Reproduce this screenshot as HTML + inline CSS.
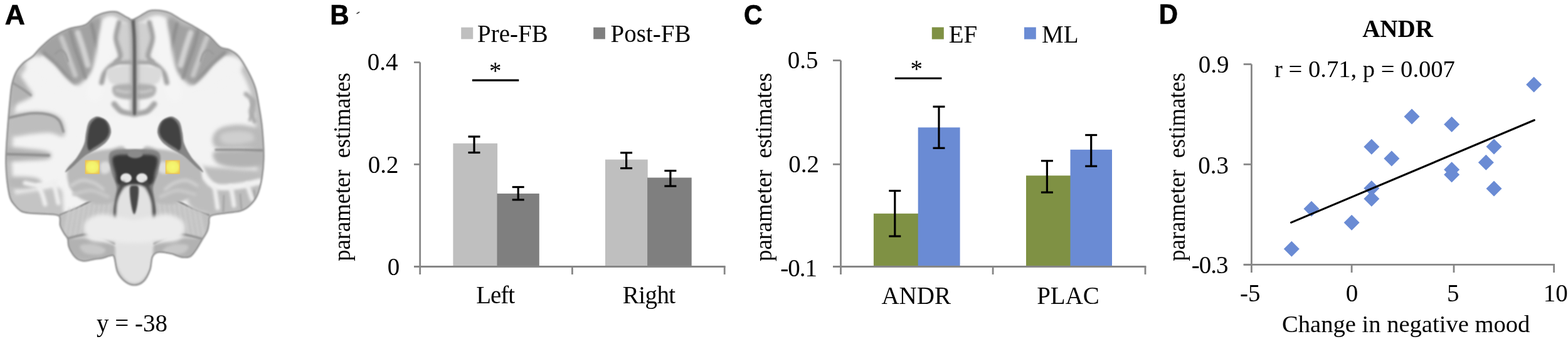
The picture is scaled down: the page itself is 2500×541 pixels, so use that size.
<!DOCTYPE html>
<html><head><meta charset="utf-8"><title>Figure</title>
<style>html,body{margin:0;padding:0;background:#fff;width:2500px;height:541px;overflow:hidden}svg{display:block}</style>
</head><body>
<svg width="2500" height="541" viewBox="0 0 2500 541">
<rect width="2500" height="541" fill="#fff"/>
<defs>
<filter id="bl1" filterUnits="userSpaceOnUse" x="-30" y="-30" width="500" height="520"><feGaussianBlur stdDeviation="1"/></filter><filter id="bl15" filterUnits="userSpaceOnUse" x="-30" y="-30" width="500" height="520"><feGaussianBlur stdDeviation="1.6"/></filter><filter id="bl2" filterUnits="userSpaceOnUse" x="-30" y="-30" width="500" height="520"><feGaussianBlur stdDeviation="2.2"/></filter><filter id="bl3" filterUnits="userSpaceOnUse" x="-30" y="-30" width="500" height="520"><feGaussianBlur stdDeviation="3.2"/></filter><filter id="bl5" filterUnits="userSpaceOnUse" x="-30" y="-30" width="500" height="520"><feGaussianBlur stdDeviation="5"/></filter>
<clipPath id="silclip"><path d="M210.5 31.6 C207.4 32.2 207.1 30.1 205.0 29.0 C202.9 27.9 201.3 27.0 198.0 25.3 C194.7 23.6 189.8 19.8 185.0 18.9 C180.2 18.0 175.1 18.4 169.5 19.7 C163.9 21.0 157.0 23.3 151.4 26.6 C145.8 29.9 142.8 36.4 135.9 39.6 C129.0 42.8 118.5 42.9 110.0 46.0 C101.5 49.1 92.6 53.5 85.0 58.5 C77.4 63.5 69.8 71.0 64.4 76.2 C59.0 81.4 56.9 85.5 52.5 89.5 C48.1 93.5 42.2 95.8 37.8 100.0 C33.4 104.2 29.1 108.9 26.0 114.7 C22.9 120.5 20.7 127.5 19.0 135.0 C17.3 142.6 17.0 150.2 16.0 160.0 C15.0 169.8 14.0 181.0 13.0 194.0 C12.0 207.0 10.6 226.7 10.0 238.0 C9.4 249.3 9.2 253.3 9.5 262.0 C9.8 270.7 10.4 281.0 11.5 290.0 C12.6 299.0 14.2 309.7 16.3 316.0 C18.4 322.3 21.1 324.5 24.0 328.0 C26.9 331.5 30.3 335.0 34.0 337.0 C37.7 339.0 39.3 339.2 46.0 340.0 C52.7 340.8 66.0 340.8 74.0 341.5 C82.0 342.2 90.3 341.4 94.0 344.5 C97.7 347.6 94.7 355.4 96.0 360.0 C97.3 364.6 100.0 368.5 102.0 372.0 C104.0 375.5 106.8 377.5 108.0 381.0 C109.2 384.5 108.3 388.9 109.5 392.8 C110.7 396.8 113.0 401.2 115.4 404.7 C117.8 408.2 120.6 411.6 124.0 413.6 C127.4 415.6 131.7 416.5 136.0 416.5 C140.3 416.5 145.5 414.4 150.0 413.6 C154.5 412.9 158.7 412.9 163.0 412.0 C167.3 411.1 172.8 408.3 176.0 408.0 C179.2 407.7 180.1 405.7 182.0 410.0 C183.9 414.3 184.5 427.5 187.3 434.0 C190.1 440.5 194.6 445.5 199.0 449.0 C203.4 452.5 209.0 455.0 214.0 455.0 C219.0 455.0 224.6 453.0 228.8 449.0 C233.0 445.0 236.6 437.5 239.0 431.0 C241.4 424.5 240.8 414.8 243.0 410.0 C245.2 405.2 247.4 403.4 252.4 402.5 C257.4 401.6 268.1 403.8 273.0 404.7 C277.9 405.6 278.9 407.0 282.0 408.0 C285.1 409.0 288.2 410.4 291.8 410.6 C295.4 410.8 300.2 411.0 303.7 409.0 C307.1 407.0 309.6 403.0 312.5 398.8 C315.4 394.6 318.4 389.0 321.4 384.0 C324.4 379.0 328.4 373.4 330.3 369.0 C332.2 364.6 332.1 361.4 333.0 357.3 C333.9 353.2 331.5 347.4 336.0 344.5 C340.5 341.6 352.1 341.3 360.0 340.0 C367.9 338.7 377.2 338.6 383.6 336.6 C390.0 334.6 393.9 331.9 398.3 327.8 C402.7 323.7 406.8 319.3 410.0 312.0 C413.2 304.7 415.9 294.5 417.6 284.0 C419.4 273.5 420.4 262.3 420.5 249.0 C420.6 235.7 419.2 217.2 418.0 204.0 C416.8 190.8 414.8 180.7 413.0 170.0 C411.2 159.3 409.9 149.4 407.0 140.0 C404.1 130.6 399.8 121.9 395.4 113.6 C391.0 105.3 385.5 95.7 380.6 90.0 C375.7 84.3 370.7 82.0 365.8 79.5 C360.9 77.0 356.5 78.7 351.0 75.0 C345.5 71.3 339.9 62.7 333.0 57.3 C326.1 51.9 316.8 46.7 309.6 42.5 C302.4 38.3 296.6 35.9 290.0 32.2 C283.4 28.5 276.3 23.0 270.0 20.4 C263.7 17.8 257.8 17.0 252.4 16.5 C247.0 16.0 242.4 15.9 237.6 17.4 C232.8 18.9 228.3 22.9 223.8 25.3 C219.3 27.7 213.6 31.0 210.5 31.6 Z"/></clipPath>
<radialGradient id="ysq" cx="0.5" cy="0.5" r="0.62"><stop offset="0" stop-color="#f6f872"/><stop offset="0.6" stop-color="#f3f06a"/><stop offset="1" stop-color="#ecc652"/></radialGradient>
<filter id="ybl" x="-20%" y="-20%" width="140%" height="140%"><feGaussianBlur stdDeviation="0.7"/></filter>
</defs>
<g id="brain"><path d="M210.5 31.6 C207.4 32.2 207.1 30.1 205.0 29.0 C202.9 27.9 201.3 27.0 198.0 25.3 C194.7 23.6 189.8 19.8 185.0 18.9 C180.2 18.0 175.1 18.4 169.5 19.7 C163.9 21.0 157.0 23.3 151.4 26.6 C145.8 29.9 142.8 36.4 135.9 39.6 C129.0 42.8 118.5 42.9 110.0 46.0 C101.5 49.1 92.6 53.5 85.0 58.5 C77.4 63.5 69.8 71.0 64.4 76.2 C59.0 81.4 56.9 85.5 52.5 89.5 C48.1 93.5 42.2 95.8 37.8 100.0 C33.4 104.2 29.1 108.9 26.0 114.7 C22.9 120.5 20.7 127.5 19.0 135.0 C17.3 142.6 17.0 150.2 16.0 160.0 C15.0 169.8 14.0 181.0 13.0 194.0 C12.0 207.0 10.6 226.7 10.0 238.0 C9.4 249.3 9.2 253.3 9.5 262.0 C9.8 270.7 10.4 281.0 11.5 290.0 C12.6 299.0 14.2 309.7 16.3 316.0 C18.4 322.3 21.1 324.5 24.0 328.0 C26.9 331.5 30.3 335.0 34.0 337.0 C37.7 339.0 39.3 339.2 46.0 340.0 C52.7 340.8 66.0 340.8 74.0 341.5 C82.0 342.2 90.3 341.4 94.0 344.5 C97.7 347.6 94.7 355.4 96.0 360.0 C97.3 364.6 100.0 368.5 102.0 372.0 C104.0 375.5 106.8 377.5 108.0 381.0 C109.2 384.5 108.3 388.9 109.5 392.8 C110.7 396.8 113.0 401.2 115.4 404.7 C117.8 408.2 120.6 411.6 124.0 413.6 C127.4 415.6 131.7 416.5 136.0 416.5 C140.3 416.5 145.5 414.4 150.0 413.6 C154.5 412.9 158.7 412.9 163.0 412.0 C167.3 411.1 172.8 408.3 176.0 408.0 C179.2 407.7 180.1 405.7 182.0 410.0 C183.9 414.3 184.5 427.5 187.3 434.0 C190.1 440.5 194.6 445.5 199.0 449.0 C203.4 452.5 209.0 455.0 214.0 455.0 C219.0 455.0 224.6 453.0 228.8 449.0 C233.0 445.0 236.6 437.5 239.0 431.0 C241.4 424.5 240.8 414.8 243.0 410.0 C245.2 405.2 247.4 403.4 252.4 402.5 C257.4 401.6 268.1 403.8 273.0 404.7 C277.9 405.6 278.9 407.0 282.0 408.0 C285.1 409.0 288.2 410.4 291.8 410.6 C295.4 410.8 300.2 411.0 303.7 409.0 C307.1 407.0 309.6 403.0 312.5 398.8 C315.4 394.6 318.4 389.0 321.4 384.0 C324.4 379.0 328.4 373.4 330.3 369.0 C332.2 364.6 332.1 361.4 333.0 357.3 C333.9 353.2 331.5 347.4 336.0 344.5 C340.5 341.6 352.1 341.3 360.0 340.0 C367.9 338.7 377.2 338.6 383.6 336.6 C390.0 334.6 393.9 331.9 398.3 327.8 C402.7 323.7 406.8 319.3 410.0 312.0 C413.2 304.7 415.9 294.5 417.6 284.0 C419.4 273.5 420.4 262.3 420.5 249.0 C420.6 235.7 419.2 217.2 418.0 204.0 C416.8 190.8 414.8 180.7 413.0 170.0 C411.2 159.3 409.9 149.4 407.0 140.0 C404.1 130.6 399.8 121.9 395.4 113.6 C391.0 105.3 385.5 95.7 380.6 90.0 C375.7 84.3 370.7 82.0 365.8 79.5 C360.9 77.0 356.5 78.7 351.0 75.0 C345.5 71.3 339.9 62.7 333.0 57.3 C326.1 51.9 316.8 46.7 309.6 42.5 C302.4 38.3 296.6 35.9 290.0 32.2 C283.4 28.5 276.3 23.0 270.0 20.4 C263.7 17.8 257.8 17.0 252.4 16.5 C247.0 16.0 242.4 15.9 237.6 17.4 C232.8 18.9 228.3 22.9 223.8 25.3 C219.3 27.7 213.6 31.0 210.5 31.6 Z" fill="#f3f3f3" filter="url(#bl1)"/>
<g clip-path="url(#silclip)">
<path d="M210.5 31.6 C207.4 32.2 207.1 30.1 205.0 29.0 C202.9 27.9 201.3 27.0 198.0 25.3 C194.7 23.6 189.8 19.8 185.0 18.9 C180.2 18.0 175.1 18.4 169.5 19.7 C163.9 21.0 157.0 23.3 151.4 26.6 C145.8 29.9 142.8 36.4 135.9 39.6 C129.0 42.8 118.5 42.9 110.0 46.0 C101.5 49.1 92.6 53.5 85.0 58.5 C77.4 63.5 69.8 71.0 64.4 76.2 C59.0 81.4 56.9 85.5 52.5 89.5 C48.1 93.5 42.2 95.8 37.8 100.0 C33.4 104.2 29.1 108.9 26.0 114.7 C22.9 120.5 20.7 127.5 19.0 135.0 C17.3 142.6 17.0 150.2 16.0 160.0 C15.0 169.8 14.0 181.0 13.0 194.0 C12.0 207.0 10.6 226.7 10.0 238.0 C9.4 249.3 9.2 253.3 9.5 262.0 C9.8 270.7 10.4 281.0 11.5 290.0 C12.6 299.0 14.2 309.7 16.3 316.0 C18.4 322.3 21.1 324.5 24.0 328.0 C26.9 331.5 30.3 335.0 34.0 337.0 C37.7 339.0 39.3 339.2 46.0 340.0 C52.7 340.8 66.0 340.8 74.0 341.5 C82.0 342.2 90.3 341.4 94.0 344.5 C97.7 347.6 94.7 355.4 96.0 360.0 C97.3 364.6 100.0 368.5 102.0 372.0 C104.0 375.5 106.8 377.5 108.0 381.0 C109.2 384.5 108.3 388.9 109.5 392.8 C110.7 396.8 113.0 401.2 115.4 404.7 C117.8 408.2 120.6 411.6 124.0 413.6 C127.4 415.6 131.7 416.5 136.0 416.5 C140.3 416.5 145.5 414.4 150.0 413.6 C154.5 412.9 158.7 412.9 163.0 412.0 C167.3 411.1 172.8 408.3 176.0 408.0 C179.2 407.7 180.1 405.7 182.0 410.0 C183.9 414.3 184.5 427.5 187.3 434.0 C190.1 440.5 194.6 445.5 199.0 449.0 C203.4 452.5 209.0 455.0 214.0 455.0 C219.0 455.0 224.6 453.0 228.8 449.0 C233.0 445.0 236.6 437.5 239.0 431.0 C241.4 424.5 240.8 414.8 243.0 410.0 C245.2 405.2 247.4 403.4 252.4 402.5 C257.4 401.6 268.1 403.8 273.0 404.7 C277.9 405.6 278.9 407.0 282.0 408.0 C285.1 409.0 288.2 410.4 291.8 410.6 C295.4 410.8 300.2 411.0 303.7 409.0 C307.1 407.0 309.6 403.0 312.5 398.8 C315.4 394.6 318.4 389.0 321.4 384.0 C324.4 379.0 328.4 373.4 330.3 369.0 C332.2 364.6 332.1 361.4 333.0 357.3 C333.9 353.2 331.5 347.4 336.0 344.5 C340.5 341.6 352.1 341.3 360.0 340.0 C367.9 338.7 377.2 338.6 383.6 336.6 C390.0 334.6 393.9 331.9 398.3 327.8 C402.7 323.7 406.8 319.3 410.0 312.0 C413.2 304.7 415.9 294.5 417.6 284.0 C419.4 273.5 420.4 262.3 420.5 249.0 C420.6 235.7 419.2 217.2 418.0 204.0 C416.8 190.8 414.8 180.7 413.0 170.0 C411.2 159.3 409.9 149.4 407.0 140.0 C404.1 130.6 399.8 121.9 395.4 113.6 C391.0 105.3 385.5 95.7 380.6 90.0 C375.7 84.3 370.7 82.0 365.8 79.5 C360.9 77.0 356.5 78.7 351.0 75.0 C345.5 71.3 339.9 62.7 333.0 57.3 C326.1 51.9 316.8 46.7 309.6 42.5 C302.4 38.3 296.6 35.9 290.0 32.2 C283.4 28.5 276.3 23.0 270.0 20.4 C263.7 17.8 257.8 17.0 252.4 16.5 C247.0 16.0 242.4 15.9 237.6 17.4 C232.8 18.9 228.3 22.9 223.8 25.3 C219.3 27.7 213.6 31.0 210.5 31.6 Z" fill="none" stroke="#c0c0c0" stroke-width="19" filter="url(#bl3)"/>
<g><path d="M84.0 58.0 C92.3 52.3 101.3 49.2 110.0 46.0 C118.7 42.8 129.0 42.0 136.0 39.0 C143.0 36.0 147.7 29.2 152.0 28.0 C156.3 26.8 160.7 26.7 162.0 32.0 C163.3 37.3 160.7 50.0 160.0 60.0 C159.3 70.0 159.7 83.3 158.0 92.0 C156.3 100.7 154.3 105.7 150.0 112.0 C145.7 118.3 137.3 125.7 132.0 130.0 C126.7 134.3 122.7 138.7 118.0 138.0 C113.3 137.3 108.7 131.3 104.0 126.0 C99.3 120.7 95.3 112.0 90.0 106.0 C84.7 100.0 77.0 94.3 72.0 90.0 C67.0 85.7 58.0 85.3 60.0 80.0 C62.0 74.7 75.7 63.7 84.0 58.0 Z" fill="#a2a2a2" filter="url(#bl3)" />
<path d="M124.0 52.0 C125.3 56.0 129.3 67.3 132.0 76.0 C134.7 84.7 138.7 99.3 140.0 104.0" fill="none" stroke="#d2d2d2" stroke-width="9" stroke-linecap="round" stroke-linejoin="round" filter="url(#bl2)" />
<path d="M98.0 60.0 C99.2 63.0 102.7 71.7 105.0 78.0 C107.3 84.3 109.5 91.0 112.0 98.0 C114.5 105.0 118.7 116.3 120.0 120.0" fill="none" stroke="#c8c8c8" stroke-width="8" stroke-linecap="round" stroke-linejoin="round" filter="url(#bl2)" />
<path d="M146.0 38.0 C147.0 42.3 149.7 54.0 152.0 64.0 C154.3 74.0 158.7 92.3 160.0 98.0" fill="none" stroke="#8c8c8c" stroke-width="5" stroke-linecap="round" stroke-linejoin="round" filter="url(#bl2)" />
<path d="M112.0 48.0 C113.0 52.0 115.3 63.3 118.0 72.0 C120.7 80.7 125.0 91.3 128.0 100.0 C131.0 108.7 134.7 120.0 136.0 124.0" fill="none" stroke="#8e8e8e" stroke-width="4.5" stroke-linecap="round" stroke-linejoin="round" filter="url(#bl2)" />
<path d="M70.0 84.0 C73.0 86.7 82.3 94.3 88.0 100.0 C93.7 105.7 99.0 112.3 104.0 118.0 C109.0 123.7 115.7 131.3 118.0 134.0" fill="none" stroke="#8e8e8e" stroke-width="4.5" stroke-linecap="round" stroke-linejoin="round" filter="url(#bl2)" />
<path d="M88.0 86.0 C89.3 85.0 93.3 80.0 96.0 80.0 C98.7 80.0 102.0 83.0 104.0 86.0 C106.0 89.0 107.3 96.0 108.0 98.0" fill="none" stroke="#999" stroke-width="3" stroke-linecap="round" stroke-linejoin="round" filter="url(#bl15)" />
<path d="M44.0 96.0 C47.0 93.0 54.0 88.7 60.0 90.0 C66.0 91.3 71.7 97.3 80.0 104.0 C88.3 110.7 102.0 123.7 110.0 130.0 C118.0 136.3 126.3 138.3 128.0 142.0 C129.7 145.7 126.3 152.0 120.0 152.0 C113.7 152.0 100.0 146.7 90.0 142.0 C80.0 137.3 68.0 129.7 60.0 124.0 C52.0 118.3 44.7 112.7 42.0 108.0 C39.3 103.3 41.0 99.0 44.0 96.0 Z" fill="#f3f3f3" filter="url(#bl3)" />
<path d="M150.0 150.0 C151.7 143.3 157.0 123.3 160.0 110.0 C163.0 96.7 165.3 82.0 168.0 70.0 C170.7 58.0 174.7 43.3 176.0 38.0" fill="none" stroke="#f5f5f5" stroke-width="24" stroke-linecap="round" stroke-linejoin="round" filter="url(#bl3)" />
<path d="M192.0 40.0 C194.7 36.0 200.7 36.0 204.0 36.0 C207.3 36.0 210.5 34.3 212.0 40.0 C213.5 45.7 213.0 60.7 213.0 70.0 C213.0 79.3 214.8 91.7 212.0 96.0 C209.2 100.3 199.3 98.7 196.0 96.0 C192.7 93.3 193.3 86.0 192.0 80.0 C190.7 74.0 188.0 66.7 188.0 60.0 C188.0 53.3 189.3 44.0 192.0 40.0 Z" fill="#d0d0d0" filter="url(#bl2)" />
<path d="M190.0 36.0 C189.2 40.0 185.0 52.7 185.0 60.0 C185.0 67.3 188.8 75.0 190.0 80.0 C191.2 85.0 192.7 86.8 192.0 90.0 C191.3 93.2 189.0 96.0 186.0 99.0 C183.0 102.0 177.3 104.8 174.0 108.0 C170.7 111.2 168.0 114.0 166.0 118.0 C164.0 122.0 162.7 129.7 162.0 132.0" fill="none" stroke="#a2a2a2" stroke-width="8" stroke-linecap="round" stroke-linejoin="round" filter="url(#bl2)" />
<path d="M186.0 99.0 C188.3 99.2 195.5 99.8 200.0 100.0 C204.5 100.2 210.8 100.0 213.0 100.0" fill="none" stroke="#a6a6a6" stroke-width="8" stroke-linecap="round" stroke-linejoin="round" filter="url(#bl2)" />
<path d="M170.0 112.0 C171.7 107.7 179.0 107.0 186.0 106.0 C193.0 105.0 207.5 101.7 212.0 106.0 C216.5 110.3 215.7 127.0 213.0 132.0 C210.3 137.0 202.2 136.0 196.0 136.0 C189.8 136.0 180.3 136.0 176.0 132.0 C171.7 128.0 168.3 116.3 170.0 112.0 Z" fill="#dadada" filter="url(#bl2)" />
<path d="M180.0 138.0 C182.3 135.0 190.7 134.3 196.0 134.0 C201.3 133.7 209.2 132.3 212.0 136.0 C214.8 139.7 215.3 152.3 213.0 156.0 C210.7 159.7 203.2 158.7 198.0 158.0 C192.8 157.3 185.0 155.3 182.0 152.0 C179.0 148.7 177.7 141.0 180.0 138.0 Z" fill="#b0b0b0" filter="url(#bl2)" />
<path d="M186.0 144.0 C188.3 144.5 195.8 146.7 200.0 147.0 C204.2 147.3 209.2 146.2 211.0 146.0" fill="none" stroke="#cbcbcb" stroke-width="4" stroke-linecap="round" stroke-linejoin="round" filter="url(#bl2)" />
<path d="M182.0 166.0 C184.0 168.0 188.7 175.2 194.0 178.0 C199.3 180.8 210.7 182.2 214.0 183.0" fill="none" stroke="#a6a6a6" stroke-width="9" stroke-linecap="round" stroke-linejoin="round" filter="url(#bl2)" />
<path d="M186.0 268.0 C184.3 272.0 181.7 284.0 176.0 292.0 C170.3 300.0 160.7 309.3 152.0 316.0 C143.3 322.7 133.3 327.5 124.0 332.0 C114.7 336.5 100.7 341.2 96.0 343.0" fill="none" stroke="#666" stroke-width="3.5" stroke-linecap="round" stroke-linejoin="round" filter="url(#bl1)" />
<path d="M96.0 344.0 C100.2 339.0 115.0 336.0 124.0 332.0 C133.0 328.0 141.3 324.3 150.0 320.0 C158.7 315.7 169.3 308.7 176.0 306.0 C182.7 303.3 187.7 291.0 190.0 304.0 C192.3 317.0 196.7 371.7 190.0 384.0 C183.3 396.3 163.3 378.7 150.0 378.0 C136.7 377.3 118.5 382.7 110.0 380.0 C101.5 377.3 101.3 368.0 99.0 362.0 C96.7 356.0 91.8 349.0 96.0 344.0 Z" fill="#c0c0c0" filter="url(#bl2)" />
<path d="M111.0 333.2 C109.7 340.3 104.3 368.9 103.0 376.0" fill="none" stroke="#d2d2d2" stroke-width="3" stroke-linecap="round" stroke-linejoin="round" filter="url(#bl2)" />
<path d="M119.0 331.6 C117.7 339.0 112.3 368.6 111.0 376.0" fill="none" stroke="#d2d2d2" stroke-width="3" stroke-linecap="round" stroke-linejoin="round" filter="url(#bl2)" />
<path d="M127.0 330.0 C125.7 337.7 120.3 368.3 119.0 376.0" fill="none" stroke="#d2d2d2" stroke-width="3" stroke-linecap="round" stroke-linejoin="round" filter="url(#bl2)" />
<path d="M135.0 328.4 C133.7 336.3 128.3 368.1 127.0 376.0" fill="none" stroke="#d2d2d2" stroke-width="3" stroke-linecap="round" stroke-linejoin="round" filter="url(#bl2)" />
<path d="M143.0 326.8 C141.7 335.0 136.3 367.8 135.0 376.0" fill="none" stroke="#d2d2d2" stroke-width="3" stroke-linecap="round" stroke-linejoin="round" filter="url(#bl2)" />
<path d="M151.0 325.2 C149.7 333.7 144.3 367.5 143.0 376.0" fill="none" stroke="#d2d2d2" stroke-width="3" stroke-linecap="round" stroke-linejoin="round" filter="url(#bl2)" />
<path d="M159.0 323.6 C157.7 332.3 152.3 367.3 151.0 376.0" fill="none" stroke="#d2d2d2" stroke-width="3" stroke-linecap="round" stroke-linejoin="round" filter="url(#bl2)" />
<path d="M167.0 322.0 C165.7 331.0 160.3 367.0 159.0 376.0" fill="none" stroke="#d2d2d2" stroke-width="3" stroke-linecap="round" stroke-linejoin="round" filter="url(#bl2)" />
<path d="M175.0 320.4 C173.7 329.7 168.3 366.7 167.0 376.0" fill="none" stroke="#d2d2d2" stroke-width="3" stroke-linecap="round" stroke-linejoin="round" filter="url(#bl2)" />
<path d="M183.0 318.8 C181.7 328.3 176.3 366.5 175.0 376.0" fill="none" stroke="#d2d2d2" stroke-width="3" stroke-linecap="round" stroke-linejoin="round" filter="url(#bl2)" />
<path d="M104.0 384.0 C109.0 380.7 126.7 378.7 140.0 380.0 C153.3 381.3 176.7 387.0 184.0 392.0 C191.3 397.0 189.7 406.3 184.0 410.0 C178.3 413.7 160.0 413.7 150.0 414.0 C140.0 414.3 130.7 414.3 124.0 412.0 C117.3 409.7 113.3 404.7 110.0 400.0 C106.7 395.3 99.0 387.3 104.0 384.0 Z" fill="#b2b2b2" filter="url(#bl2)" />
<path d="M128.0 392.0 C130.3 389.7 143.3 389.0 150.0 390.0 C156.7 391.0 166.3 395.3 168.0 398.0 C169.7 400.7 165.3 405.0 160.0 406.0 C154.7 407.0 141.3 406.3 136.0 404.0 C130.7 401.7 125.7 394.3 128.0 392.0 Z" fill="#c8c8c8" filter="url(#bl2)" />
<path d="M106.0 381.0 C112.8 379.7 134.0 371.7 147.0 373.0 C160.0 374.3 177.8 386.3 184.0 389.0" fill="none" stroke="#888" stroke-width="3" stroke-linecap="round" stroke-linejoin="round" filter="url(#bl15)" /></g><g transform="translate(428,0) scale(-1,1)"><path d="M84.0 58.0 C92.3 52.3 101.3 49.2 110.0 46.0 C118.7 42.8 129.0 42.0 136.0 39.0 C143.0 36.0 147.7 29.2 152.0 28.0 C156.3 26.8 160.7 26.7 162.0 32.0 C163.3 37.3 160.7 50.0 160.0 60.0 C159.3 70.0 159.7 83.3 158.0 92.0 C156.3 100.7 154.3 105.7 150.0 112.0 C145.7 118.3 137.3 125.7 132.0 130.0 C126.7 134.3 122.7 138.7 118.0 138.0 C113.3 137.3 108.7 131.3 104.0 126.0 C99.3 120.7 95.3 112.0 90.0 106.0 C84.7 100.0 77.0 94.3 72.0 90.0 C67.0 85.7 58.0 85.3 60.0 80.0 C62.0 74.7 75.7 63.7 84.0 58.0 Z" fill="#a2a2a2" filter="url(#bl3)" />
<path d="M124.0 52.0 C125.3 56.0 129.3 67.3 132.0 76.0 C134.7 84.7 138.7 99.3 140.0 104.0" fill="none" stroke="#d2d2d2" stroke-width="9" stroke-linecap="round" stroke-linejoin="round" filter="url(#bl2)" />
<path d="M98.0 60.0 C99.2 63.0 102.7 71.7 105.0 78.0 C107.3 84.3 109.5 91.0 112.0 98.0 C114.5 105.0 118.7 116.3 120.0 120.0" fill="none" stroke="#c8c8c8" stroke-width="8" stroke-linecap="round" stroke-linejoin="round" filter="url(#bl2)" />
<path d="M146.0 38.0 C147.0 42.3 149.7 54.0 152.0 64.0 C154.3 74.0 158.7 92.3 160.0 98.0" fill="none" stroke="#8c8c8c" stroke-width="5" stroke-linecap="round" stroke-linejoin="round" filter="url(#bl2)" />
<path d="M112.0 48.0 C113.0 52.0 115.3 63.3 118.0 72.0 C120.7 80.7 125.0 91.3 128.0 100.0 C131.0 108.7 134.7 120.0 136.0 124.0" fill="none" stroke="#8e8e8e" stroke-width="4.5" stroke-linecap="round" stroke-linejoin="round" filter="url(#bl2)" />
<path d="M70.0 84.0 C73.0 86.7 82.3 94.3 88.0 100.0 C93.7 105.7 99.0 112.3 104.0 118.0 C109.0 123.7 115.7 131.3 118.0 134.0" fill="none" stroke="#8e8e8e" stroke-width="4.5" stroke-linecap="round" stroke-linejoin="round" filter="url(#bl2)" />
<path d="M88.0 86.0 C89.3 85.0 93.3 80.0 96.0 80.0 C98.7 80.0 102.0 83.0 104.0 86.0 C106.0 89.0 107.3 96.0 108.0 98.0" fill="none" stroke="#999" stroke-width="3" stroke-linecap="round" stroke-linejoin="round" filter="url(#bl15)" />
<path d="M44.0 96.0 C47.0 93.0 54.0 88.7 60.0 90.0 C66.0 91.3 71.7 97.3 80.0 104.0 C88.3 110.7 102.0 123.7 110.0 130.0 C118.0 136.3 126.3 138.3 128.0 142.0 C129.7 145.7 126.3 152.0 120.0 152.0 C113.7 152.0 100.0 146.7 90.0 142.0 C80.0 137.3 68.0 129.7 60.0 124.0 C52.0 118.3 44.7 112.7 42.0 108.0 C39.3 103.3 41.0 99.0 44.0 96.0 Z" fill="#f3f3f3" filter="url(#bl3)" />
<path d="M150.0 150.0 C151.7 143.3 157.0 123.3 160.0 110.0 C163.0 96.7 165.3 82.0 168.0 70.0 C170.7 58.0 174.7 43.3 176.0 38.0" fill="none" stroke="#f5f5f5" stroke-width="24" stroke-linecap="round" stroke-linejoin="round" filter="url(#bl3)" />
<path d="M192.0 40.0 C194.7 36.0 200.7 36.0 204.0 36.0 C207.3 36.0 210.5 34.3 212.0 40.0 C213.5 45.7 213.0 60.7 213.0 70.0 C213.0 79.3 214.8 91.7 212.0 96.0 C209.2 100.3 199.3 98.7 196.0 96.0 C192.7 93.3 193.3 86.0 192.0 80.0 C190.7 74.0 188.0 66.7 188.0 60.0 C188.0 53.3 189.3 44.0 192.0 40.0 Z" fill="#d0d0d0" filter="url(#bl2)" />
<path d="M190.0 36.0 C189.2 40.0 185.0 52.7 185.0 60.0 C185.0 67.3 188.8 75.0 190.0 80.0 C191.2 85.0 192.7 86.8 192.0 90.0 C191.3 93.2 189.0 96.0 186.0 99.0 C183.0 102.0 177.3 104.8 174.0 108.0 C170.7 111.2 168.0 114.0 166.0 118.0 C164.0 122.0 162.7 129.7 162.0 132.0" fill="none" stroke="#a2a2a2" stroke-width="8" stroke-linecap="round" stroke-linejoin="round" filter="url(#bl2)" />
<path d="M186.0 99.0 C188.3 99.2 195.5 99.8 200.0 100.0 C204.5 100.2 210.8 100.0 213.0 100.0" fill="none" stroke="#a6a6a6" stroke-width="8" stroke-linecap="round" stroke-linejoin="round" filter="url(#bl2)" />
<path d="M170.0 112.0 C171.7 107.7 179.0 107.0 186.0 106.0 C193.0 105.0 207.5 101.7 212.0 106.0 C216.5 110.3 215.7 127.0 213.0 132.0 C210.3 137.0 202.2 136.0 196.0 136.0 C189.8 136.0 180.3 136.0 176.0 132.0 C171.7 128.0 168.3 116.3 170.0 112.0 Z" fill="#dadada" filter="url(#bl2)" />
<path d="M180.0 138.0 C182.3 135.0 190.7 134.3 196.0 134.0 C201.3 133.7 209.2 132.3 212.0 136.0 C214.8 139.7 215.3 152.3 213.0 156.0 C210.7 159.7 203.2 158.7 198.0 158.0 C192.8 157.3 185.0 155.3 182.0 152.0 C179.0 148.7 177.7 141.0 180.0 138.0 Z" fill="#b0b0b0" filter="url(#bl2)" />
<path d="M186.0 144.0 C188.3 144.5 195.8 146.7 200.0 147.0 C204.2 147.3 209.2 146.2 211.0 146.0" fill="none" stroke="#cbcbcb" stroke-width="4" stroke-linecap="round" stroke-linejoin="round" filter="url(#bl2)" />
<path d="M182.0 166.0 C184.0 168.0 188.7 175.2 194.0 178.0 C199.3 180.8 210.7 182.2 214.0 183.0" fill="none" stroke="#a6a6a6" stroke-width="9" stroke-linecap="round" stroke-linejoin="round" filter="url(#bl2)" />
<path d="M186.0 268.0 C184.3 272.0 181.7 284.0 176.0 292.0 C170.3 300.0 160.7 309.3 152.0 316.0 C143.3 322.7 133.3 327.5 124.0 332.0 C114.7 336.5 100.7 341.2 96.0 343.0" fill="none" stroke="#666" stroke-width="3.5" stroke-linecap="round" stroke-linejoin="round" filter="url(#bl1)" />
<path d="M96.0 344.0 C100.2 339.0 115.0 336.0 124.0 332.0 C133.0 328.0 141.3 324.3 150.0 320.0 C158.7 315.7 169.3 308.7 176.0 306.0 C182.7 303.3 187.7 291.0 190.0 304.0 C192.3 317.0 196.7 371.7 190.0 384.0 C183.3 396.3 163.3 378.7 150.0 378.0 C136.7 377.3 118.5 382.7 110.0 380.0 C101.5 377.3 101.3 368.0 99.0 362.0 C96.7 356.0 91.8 349.0 96.0 344.0 Z" fill="#c0c0c0" filter="url(#bl2)" />
<path d="M111.0 333.2 C109.7 340.3 104.3 368.9 103.0 376.0" fill="none" stroke="#d2d2d2" stroke-width="3" stroke-linecap="round" stroke-linejoin="round" filter="url(#bl2)" />
<path d="M119.0 331.6 C117.7 339.0 112.3 368.6 111.0 376.0" fill="none" stroke="#d2d2d2" stroke-width="3" stroke-linecap="round" stroke-linejoin="round" filter="url(#bl2)" />
<path d="M127.0 330.0 C125.7 337.7 120.3 368.3 119.0 376.0" fill="none" stroke="#d2d2d2" stroke-width="3" stroke-linecap="round" stroke-linejoin="round" filter="url(#bl2)" />
<path d="M135.0 328.4 C133.7 336.3 128.3 368.1 127.0 376.0" fill="none" stroke="#d2d2d2" stroke-width="3" stroke-linecap="round" stroke-linejoin="round" filter="url(#bl2)" />
<path d="M143.0 326.8 C141.7 335.0 136.3 367.8 135.0 376.0" fill="none" stroke="#d2d2d2" stroke-width="3" stroke-linecap="round" stroke-linejoin="round" filter="url(#bl2)" />
<path d="M151.0 325.2 C149.7 333.7 144.3 367.5 143.0 376.0" fill="none" stroke="#d2d2d2" stroke-width="3" stroke-linecap="round" stroke-linejoin="round" filter="url(#bl2)" />
<path d="M159.0 323.6 C157.7 332.3 152.3 367.3 151.0 376.0" fill="none" stroke="#d2d2d2" stroke-width="3" stroke-linecap="round" stroke-linejoin="round" filter="url(#bl2)" />
<path d="M167.0 322.0 C165.7 331.0 160.3 367.0 159.0 376.0" fill="none" stroke="#d2d2d2" stroke-width="3" stroke-linecap="round" stroke-linejoin="round" filter="url(#bl2)" />
<path d="M175.0 320.4 C173.7 329.7 168.3 366.7 167.0 376.0" fill="none" stroke="#d2d2d2" stroke-width="3" stroke-linecap="round" stroke-linejoin="round" filter="url(#bl2)" />
<path d="M183.0 318.8 C181.7 328.3 176.3 366.5 175.0 376.0" fill="none" stroke="#d2d2d2" stroke-width="3" stroke-linecap="round" stroke-linejoin="round" filter="url(#bl2)" />
<path d="M104.0 384.0 C109.0 380.7 126.7 378.7 140.0 380.0 C153.3 381.3 176.7 387.0 184.0 392.0 C191.3 397.0 189.7 406.3 184.0 410.0 C178.3 413.7 160.0 413.7 150.0 414.0 C140.0 414.3 130.7 414.3 124.0 412.0 C117.3 409.7 113.3 404.7 110.0 400.0 C106.7 395.3 99.0 387.3 104.0 384.0 Z" fill="#b2b2b2" filter="url(#bl2)" />
<path d="M128.0 392.0 C130.3 389.7 143.3 389.0 150.0 390.0 C156.7 391.0 166.3 395.3 168.0 398.0 C169.7 400.7 165.3 405.0 160.0 406.0 C154.7 407.0 141.3 406.3 136.0 404.0 C130.7 401.7 125.7 394.3 128.0 392.0 Z" fill="#c8c8c8" filter="url(#bl2)" />
<path d="M106.0 381.0 C112.8 379.7 134.0 371.7 147.0 373.0 C160.0 374.3 177.8 386.3 184.0 389.0" fill="none" stroke="#888" stroke-width="3" stroke-linecap="round" stroke-linejoin="round" filter="url(#bl15)" /></g>
<path d="M18.0 118.0 C20.3 110.3 27.7 118.7 32.0 122.0 C36.3 125.3 40.7 133.0 44.0 138.0 C47.3 143.0 52.7 148.3 52.0 152.0 C51.3 155.7 44.3 157.7 40.0 160.0 C35.7 162.3 29.7 164.7 26.0 166.0 C22.3 167.3 19.3 176.0 18.0 168.0 C16.7 160.0 15.7 125.7 18.0 118.0 Z" fill="#b4b4b4" filter="url(#bl3)" />
<path d="M20.0 132.0 C22.7 133.7 31.2 138.7 36.0 142.0 C40.8 145.3 46.8 150.3 49.0 152.0" fill="none" stroke="#989898" stroke-width="3.5" stroke-linecap="round" stroke-linejoin="round" filter="url(#bl15)" />
<path d="M16.0 186.0 C21.7 179.7 39.3 179.0 50.0 178.0 C60.7 177.0 72.0 178.0 80.0 180.0 C88.0 182.0 94.0 185.3 98.0 190.0 C102.0 194.7 103.7 203.3 104.0 208.0 C104.3 212.7 104.0 217.3 100.0 218.0 C96.0 218.7 88.3 212.7 80.0 212.0 C71.7 211.3 60.7 213.3 50.0 214.0 C39.3 214.7 21.7 220.7 16.0 216.0 C10.3 211.3 10.3 192.3 16.0 186.0 Z" fill="#bdbdbd" filter="url(#bl3)" />
<path d="M14.0 188.0 C20.0 186.8 39.3 181.8 50.0 181.0 C60.7 180.2 70.7 181.2 78.0 183.0 C85.3 184.8 90.2 187.5 94.0 192.0 C97.8 196.5 99.8 207.0 101.0 210.0" fill="none" stroke="#8e8e8e" stroke-width="3.5" stroke-linecap="round" stroke-linejoin="round" filter="url(#bl15)" />
<path d="M10.0 236.0 C16.7 233.0 39.0 237.0 50.0 238.0 C61.0 239.0 70.7 240.3 76.0 242.0 C81.3 243.7 82.0 246.0 82.0 248.0 C82.0 250.0 81.3 252.7 76.0 254.0 C70.7 255.3 61.0 255.7 50.0 256.0 C39.0 256.3 16.7 259.3 10.0 256.0 C3.3 252.7 3.3 239.0 10.0 236.0 Z" fill="#b3b3b3" filter="url(#bl3)" />
<path d="M10.0 246.0 C16.7 246.2 38.7 246.7 50.0 247.0 C61.3 247.3 73.3 247.8 78.0 248.0" fill="none" stroke="#8a8a8a" stroke-width="3.5" stroke-linecap="round" stroke-linejoin="round" filter="url(#bl15)" />
<path d="M14.0 284.0 C17.7 281.0 32.0 281.7 40.0 282.0 C48.0 282.3 58.0 283.7 62.0 286.0 C66.0 288.3 67.7 293.3 64.0 296.0 C60.3 298.7 47.7 301.3 40.0 302.0 C32.3 302.7 22.3 303.0 18.0 300.0 C13.7 297.0 10.3 287.0 14.0 284.0 Z" fill="#b8b8b8" filter="url(#bl3)" />
<path d="M20.0 312.0 C26.7 307.7 47.7 306.0 60.0 304.0 C72.3 302.0 87.3 297.3 94.0 300.0 C100.7 302.7 100.0 313.0 100.0 320.0 C100.0 327.0 104.0 338.3 94.0 342.0 C84.0 345.7 52.3 344.0 40.0 342.0 C27.7 340.0 23.3 335.0 20.0 330.0 C16.7 325.0 13.3 316.3 20.0 312.0 Z" fill="#c4c4c4" filter="url(#bl3)" />
<path d="M40.0 292.0 C44.0 292.7 55.7 296.3 64.0 296.0 C72.3 295.7 85.7 291.0 90.0 290.0" fill="none" stroke="#f0f0f0" stroke-width="7" stroke-linecap="round" stroke-linejoin="round" filter="url(#bl2)" />
<path d="M62.0 296.0 C63.0 298.7 66.3 307.0 68.0 312.0 C69.7 317.0 71.3 323.7 72.0 326.0" fill="none" stroke="#efefef" stroke-width="7" stroke-linecap="round" stroke-linejoin="round" filter="url(#bl2)" />
<path d="M86.0 292.0 C86.7 295.0 88.8 304.7 90.0 310.0 C91.2 315.3 92.5 321.7 93.0 324.0" fill="none" stroke="#efefef" stroke-width="7" stroke-linecap="round" stroke-linejoin="round" filter="url(#bl2)" />
<path d="M340.0 216.0 C342.0 211.7 345.7 206.8 352.0 204.0 C358.3 201.2 369.7 199.3 378.0 199.0 C386.3 198.7 395.3 200.5 402.0 202.0 C408.7 203.5 415.0 202.0 418.0 208.0 C421.0 214.0 424.7 233.2 420.0 238.0 C415.3 242.8 401.7 237.2 390.0 237.0 C378.3 236.8 358.3 238.2 350.0 237.0 C341.7 235.8 341.7 233.5 340.0 230.0 C338.3 226.5 338.0 220.3 340.0 216.0 Z" fill="#bababa" filter="url(#bl3)" />
<path d="M352.0 214.0 C355.7 210.8 370.0 209.3 378.0 209.0 C386.0 208.7 395.7 209.5 400.0 212.0 C404.3 214.5 407.3 221.0 404.0 224.0 C400.7 227.0 388.0 229.3 380.0 230.0 C372.0 230.7 360.7 230.7 356.0 228.0 C351.3 225.3 348.3 217.2 352.0 214.0 Z" fill="#cfcfcf" filter="url(#bl3)" />
<path d="M342.0 242.0 C348.0 238.8 367.0 239.5 380.0 239.0 C393.0 238.5 413.3 235.2 420.0 239.0 C426.7 242.8 424.0 257.2 420.0 262.0 C416.0 266.8 405.7 267.3 396.0 268.0 C386.3 268.7 370.7 267.7 362.0 266.0 C353.3 264.3 347.3 262.0 344.0 258.0 C340.7 254.0 336.0 245.2 342.0 242.0 Z" fill="#b2b2b2" filter="url(#bl3)" />
<path d="M344.0 239.0 C350.0 239.0 367.5 238.8 380.0 239.0 C392.5 239.2 412.5 239.8 419.0 240.0" fill="none" stroke="#8a8a8a" stroke-width="3.5" stroke-linecap="round" stroke-linejoin="round" filter="url(#bl15)" />
<path d="M400.0 160.0 C400.7 162.7 404.3 170.7 404.0 176.0 C403.7 181.3 399.0 189.3 398.0 192.0" fill="none" stroke="#a0a0a0" stroke-width="4" stroke-linecap="round" stroke-linejoin="round" filter="url(#bl2)" />
<path d="M392.0 150.0 C394.0 152.0 402.7 157.3 404.0 162.0 C405.3 166.7 399.7 172.7 400.0 178.0 C400.3 183.3 405.0 191.3 406.0 194.0" fill="none" stroke="#ababab" stroke-width="7" stroke-linecap="round" stroke-linejoin="round" filter="url(#bl2)" />
<path d="M298.0 262.0 C303.7 256.3 316.3 264.7 330.0 266.0 C343.7 267.3 365.7 268.3 380.0 270.0 C394.3 271.7 410.3 269.3 416.0 276.0 C421.7 282.7 416.7 301.0 414.0 310.0 C411.3 319.0 407.3 325.0 400.0 330.0 C392.7 335.0 380.7 338.0 370.0 340.0 C359.3 342.0 347.0 343.7 336.0 342.0 C325.0 340.3 310.7 337.0 304.0 330.0 C297.3 323.0 297.0 311.3 296.0 300.0 C295.0 288.7 292.3 267.7 298.0 262.0 Z" fill="#bdbdbd" filter="url(#bl3)" />
<path d="M316.0 258.0 C318.0 262.3 323.0 277.3 328.0 284.0 C333.0 290.7 337.3 295.8 346.0 298.0 C354.7 300.2 368.7 298.3 380.0 297.0 C391.3 295.7 408.3 291.2 414.0 290.0" fill="none" stroke="#f2f2f2" stroke-width="10" stroke-linecap="round" stroke-linejoin="round" filter="url(#bl2)" />
<path d="M342.0 298.0 C342.5 301.3 344.2 312.3 345.0 318.0 C345.8 323.7 346.7 329.7 347.0 332.0" fill="none" stroke="#efefef" stroke-width="7" stroke-linecap="round" stroke-linejoin="round" filter="url(#bl2)" />
<path d="M368.0 298.0 C368.5 300.7 370.2 309.0 371.0 314.0 C371.8 319.0 372.7 325.7 373.0 328.0" fill="none" stroke="#efefef" stroke-width="7" stroke-linecap="round" stroke-linejoin="round" filter="url(#bl2)" />
<path d="M394.0 294.0 C394.7 296.0 396.7 302.0 398.0 306.0 C399.3 310.0 401.3 316.0 402.0 318.0" fill="none" stroke="#efefef" stroke-width="7" stroke-linecap="round" stroke-linejoin="round" filter="url(#bl2)" />
<path d="M356.0 338.0 C356.2 333.7 356.8 316.3 357.0 312.0" fill="none" stroke="#a2a2a2" stroke-width="2.5" stroke-linecap="round" stroke-linejoin="round" filter="url(#bl15)" />
<path d="M385.0 334.0 C384.7 330.0 383.3 314.0 383.0 310.0" fill="none" stroke="#a2a2a2" stroke-width="2.5" stroke-linecap="round" stroke-linejoin="round" filter="url(#bl15)" />
<path d="M409.0 324.0 C408.3 320.7 405.7 307.3 405.0 304.0" fill="none" stroke="#a2a2a2" stroke-width="2.5" stroke-linecap="round" stroke-linejoin="round" filter="url(#bl15)" />
<path d="M212.0 33.0 C212.3 37.5 213.6 48.8 214.0 60.0 C214.4 71.2 214.4 80.0 214.5 100.0 C214.6 120.0 214.5 166.7 214.5 180.0" fill="none" stroke="#a4a4a4" stroke-width="12" stroke-linecap="round" stroke-linejoin="round" filter="url(#bl3)" />
<path d="M212.0 31.0 C212.3 35.8 213.6 48.5 214.0 60.0 C214.4 71.5 214.4 79.7 214.5 100.0 C214.6 120.3 214.5 168.3 214.5 182.0" fill="none" stroke="#606060" stroke-width="5" stroke-linecap="round" stroke-linejoin="round" filter="url(#bl15)" />
<path d="M150.0 190.0 C158.7 182.3 169.3 186.5 180.0 186.0 C190.7 185.5 202.7 187.0 214.0 187.0 C225.3 187.0 237.3 185.5 248.0 186.0 C258.7 186.5 269.3 182.3 278.0 190.0 C286.7 197.7 304.7 224.0 300.0 232.0 C295.3 240.0 264.3 237.0 250.0 238.0 C235.7 239.0 226.0 238.0 214.0 238.0 C202.0 238.0 192.3 239.0 178.0 238.0 C163.7 237.0 132.7 240.0 128.0 232.0 C123.3 224.0 141.3 197.7 150.0 190.0 Z" fill="#f4f4f4" filter="url(#bl3)" />
<g><path d="M108.0 270.0 C111.0 261.7 123.0 254.7 130.0 250.0 C137.0 245.3 142.5 244.0 150.0 242.0 C157.5 240.0 166.7 238.7 175.0 238.0 C183.3 237.3 195.8 227.7 200.0 238.0 C204.2 248.3 202.3 286.3 200.0 300.0 C197.7 313.7 192.7 315.7 186.0 320.0 C179.3 324.3 169.3 326.3 160.0 326.0 C150.7 325.7 138.0 322.3 130.0 318.0 C122.0 313.7 115.7 308.0 112.0 300.0 C108.3 292.0 105.0 278.3 108.0 270.0 Z" fill="#bababa" filter="url(#bl2)" />
<path d="M160.0 262.0 C161.3 259.0 167.2 257.3 170.0 258.0 C172.8 258.7 176.7 263.0 177.0 266.0 C177.3 269.0 174.5 274.3 172.0 276.0 C169.5 277.7 164.0 278.3 162.0 276.0 C160.0 273.7 158.7 265.0 160.0 262.0 Z" fill="#dedede" filter="url(#bl2)" />
<path d="M114.0 296.0 C116.7 294.7 124.0 288.7 130.0 288.0 C136.0 287.3 144.3 289.7 150.0 292.0 C155.7 294.3 161.7 300.3 164.0 302.0" fill="none" stroke="#cdcdcd" stroke-width="6" stroke-linecap="round" stroke-linejoin="round" filter="url(#bl2)" />
<path d="M118.0 310.0 C122.7 309.0 137.0 303.3 146.0 304.0 C155.0 304.7 167.7 312.3 172.0 314.0" fill="none" stroke="#c8c8c8" stroke-width="6" stroke-linecap="round" stroke-linejoin="round" filter="url(#bl2)" />
<path d="M154.0 186.0 C158.0 185.3 162.7 188.0 166.0 190.0 C169.3 192.0 172.2 194.3 174.0 198.0 C175.8 201.7 177.7 207.3 177.0 212.0 C176.3 216.7 173.5 221.8 170.0 226.0 C166.5 230.2 162.0 233.0 156.0 237.0 C150.0 241.0 141.0 244.8 134.0 250.0 C127.0 255.2 119.0 263.8 114.0 268.0 C109.0 272.2 105.0 275.0 104.0 275.0 C103.0 275.0 105.0 271.8 108.0 268.0 C111.0 264.2 117.7 258.3 122.0 252.0 C126.3 245.7 131.5 236.7 134.0 230.0 C136.5 223.3 135.7 218.0 137.0 212.0 C138.3 206.0 139.2 198.3 142.0 194.0 C144.8 189.7 150.0 186.7 154.0 186.0 Z" fill="#858585" filter="url(#bl1)" />
<path d="M156.0 188.0 C158.8 187.8 163.3 189.2 166.0 191.0 C168.7 192.8 170.7 195.8 172.0 199.0 C173.3 202.2 174.3 206.5 174.0 210.0 C173.7 213.5 172.3 216.8 170.0 220.0 C167.7 223.2 163.5 226.3 160.0 229.0 C156.5 231.7 152.0 234.2 149.0 236.0 C146.0 237.8 143.7 240.8 142.0 240.0 C140.3 239.2 139.3 235.0 139.0 231.0 C138.7 227.0 139.3 221.0 140.0 216.0 C140.7 211.0 141.5 205.0 143.0 201.0 C144.5 197.0 146.8 194.2 149.0 192.0 C151.2 189.8 153.2 188.2 156.0 188.0 Z" fill="#434343" filter="url(#bl15)" /></g><g transform="translate(428,0) scale(-1,1)"><path d="M108.0 270.0 C111.0 261.7 123.0 254.7 130.0 250.0 C137.0 245.3 142.5 244.0 150.0 242.0 C157.5 240.0 166.7 238.7 175.0 238.0 C183.3 237.3 195.8 227.7 200.0 238.0 C204.2 248.3 202.3 286.3 200.0 300.0 C197.7 313.7 192.7 315.7 186.0 320.0 C179.3 324.3 169.3 326.3 160.0 326.0 C150.7 325.7 138.0 322.3 130.0 318.0 C122.0 313.7 115.7 308.0 112.0 300.0 C108.3 292.0 105.0 278.3 108.0 270.0 Z" fill="#bababa" filter="url(#bl2)" />
<path d="M160.0 262.0 C161.3 259.0 167.2 257.3 170.0 258.0 C172.8 258.7 176.7 263.0 177.0 266.0 C177.3 269.0 174.5 274.3 172.0 276.0 C169.5 277.7 164.0 278.3 162.0 276.0 C160.0 273.7 158.7 265.0 160.0 262.0 Z" fill="#dedede" filter="url(#bl2)" />
<path d="M114.0 296.0 C116.7 294.7 124.0 288.7 130.0 288.0 C136.0 287.3 144.3 289.7 150.0 292.0 C155.7 294.3 161.7 300.3 164.0 302.0" fill="none" stroke="#cdcdcd" stroke-width="6" stroke-linecap="round" stroke-linejoin="round" filter="url(#bl2)" />
<path d="M118.0 310.0 C122.7 309.0 137.0 303.3 146.0 304.0 C155.0 304.7 167.7 312.3 172.0 314.0" fill="none" stroke="#c8c8c8" stroke-width="6" stroke-linecap="round" stroke-linejoin="round" filter="url(#bl2)" />
<path d="M154.0 186.0 C158.0 185.3 162.7 188.0 166.0 190.0 C169.3 192.0 172.2 194.3 174.0 198.0 C175.8 201.7 177.7 207.3 177.0 212.0 C176.3 216.7 173.5 221.8 170.0 226.0 C166.5 230.2 162.0 233.0 156.0 237.0 C150.0 241.0 141.0 244.8 134.0 250.0 C127.0 255.2 119.0 263.8 114.0 268.0 C109.0 272.2 105.0 275.0 104.0 275.0 C103.0 275.0 105.0 271.8 108.0 268.0 C111.0 264.2 117.7 258.3 122.0 252.0 C126.3 245.7 131.5 236.7 134.0 230.0 C136.5 223.3 135.7 218.0 137.0 212.0 C138.3 206.0 139.2 198.3 142.0 194.0 C144.8 189.7 150.0 186.7 154.0 186.0 Z" fill="#858585" filter="url(#bl1)" />
<path d="M156.0 188.0 C158.8 187.8 163.3 189.2 166.0 191.0 C168.7 192.8 170.7 195.8 172.0 199.0 C173.3 202.2 174.3 206.5 174.0 210.0 C173.7 213.5 172.3 216.8 170.0 220.0 C167.7 223.2 163.5 226.3 160.0 229.0 C156.5 231.7 152.0 234.2 149.0 236.0 C146.0 237.8 143.7 240.8 142.0 240.0 C140.3 239.2 139.3 235.0 139.0 231.0 C138.7 227.0 139.3 221.0 140.0 216.0 C140.7 211.0 141.5 205.0 143.0 201.0 C144.5 197.0 146.8 194.2 149.0 192.0 C151.2 189.8 153.2 188.2 156.0 188.0 Z" fill="#434343" filter="url(#bl15)" /></g>
<path d="M176.0 243.0 C182.0 236.8 201.2 238.0 214.0 238.0 C226.8 238.0 246.7 236.8 253.0 243.0 C259.3 249.2 253.5 265.5 252.0 275.0 C250.5 284.5 245.3 287.5 244.0 300.0 C242.7 312.5 253.7 341.7 244.0 350.0 C234.3 358.3 195.7 358.3 186.0 350.0 C176.3 341.7 187.3 312.5 186.0 300.0 C184.7 287.5 179.7 284.5 178.0 275.0 C176.3 265.5 170.0 249.2 176.0 243.0 Z" fill="#858585" filter="url(#bl15)" />
<path d="M181.0 250.0 C186.0 245.2 202.7 247.0 214.0 247.0 C225.3 247.0 243.5 245.2 249.0 250.0 C254.5 254.8 248.8 268.3 247.0 276.0 C245.2 283.7 247.2 292.7 238.0 296.0 C228.8 299.3 201.0 299.3 192.0 296.0 C183.0 292.7 185.8 283.7 184.0 276.0 C182.2 268.3 176.0 254.8 181.0 250.0 Z" fill="#383838" filter="url(#bl2)" />
<ellipse cx="215.5" cy="246" rx="12" ry="6.5" fill="#8a8a8a" filter="url(#bl15)"/>
<ellipse cx="201" cy="284" rx="9" ry="7.5" fill="#e6e6e6" filter="url(#bl1)"/><ellipse cx="226.2" cy="284" rx="9" ry="7.5" fill="#e6e6e6" filter="url(#bl1)"/>
<path d="M196.0 292.0 C194.8 295.3 190.8 305.3 189.0 312.0 C187.2 318.7 185.8 325.7 185.0 332.0 C184.2 338.3 184.2 347.0 184.0 350.0" fill="none" stroke="#4a4a4a" stroke-width="6" stroke-linecap="round" stroke-linejoin="round" filter="url(#bl2)" />
<path d="M233.0 292.0 C234.2 295.3 238.2 305.3 240.0 312.0 C241.8 318.7 243.2 325.7 244.0 332.0 C244.8 338.3 244.8 347.0 245.0 350.0" fill="none" stroke="#4a4a4a" stroke-width="6" stroke-linecap="round" stroke-linejoin="round" filter="url(#bl2)" />
<path d="M200.0 298.0 C204.3 294.2 209.2 295.0 214.0 295.0 C218.8 295.0 224.7 294.2 229.0 298.0 C233.3 301.8 237.7 310.2 240.0 318.0 C242.3 325.8 242.3 329.7 243.0 345.0 C243.7 360.3 244.8 395.5 244.0 410.0 C243.2 424.5 241.0 425.7 238.0 432.0 C235.0 438.3 230.0 444.7 226.0 448.0 C222.0 451.3 218.0 452.0 214.0 452.0 C210.0 452.0 206.0 451.3 202.0 448.0 C198.0 444.7 193.0 438.3 190.0 432.0 C187.0 425.7 184.8 424.5 184.0 410.0 C183.2 395.5 184.3 360.3 185.0 345.0 C185.7 329.7 185.5 325.8 188.0 318.0 C190.5 310.2 195.7 301.8 200.0 298.0 Z" fill="#e2e2e2" filter="url(#bl2)" />
<path d="M138.0 352.0 C142.3 347.7 151.3 343.0 160.0 342.0 C168.7 341.0 181.0 344.7 190.0 346.0 C199.0 347.3 206.0 350.0 214.0 350.0 C222.0 350.0 229.0 347.3 238.0 346.0 C247.0 344.7 259.3 341.0 268.0 342.0 C276.7 343.0 285.7 347.7 290.0 352.0 C294.3 356.3 295.3 362.7 294.0 368.0 C292.7 373.3 289.3 381.0 282.0 384.0 C274.7 387.0 261.3 385.3 250.0 386.0 C238.7 386.7 226.0 388.0 214.0 388.0 C202.0 388.0 189.3 386.7 178.0 386.0 C166.7 385.3 153.3 387.0 146.0 384.0 C138.7 381.0 135.3 373.3 134.0 368.0 C132.7 362.7 133.7 356.3 138.0 352.0 Z" fill="#ececec" filter="url(#bl3)" />
<path d="M207.0 300.0 C207.8 295.0 211.7 296.0 214.0 296.0 C216.3 296.0 220.2 295.0 221.0 300.0 C221.8 305.0 220.2 319.0 219.0 326.0 C217.8 333.0 215.7 342.0 214.0 342.0 C212.3 342.0 210.2 333.0 209.0 326.0 C207.8 319.0 206.2 305.0 207.0 300.0 Z" fill="#474747" filter="url(#bl15)" />
</g>
<path d="M210.5 31.6 C207.4 32.2 207.1 30.1 205.0 29.0 C202.9 27.9 201.3 27.0 198.0 25.3 C194.7 23.6 189.8 19.8 185.0 18.9 C180.2 18.0 175.1 18.4 169.5 19.7 C163.9 21.0 157.0 23.3 151.4 26.6 C145.8 29.9 142.8 36.4 135.9 39.6 C129.0 42.8 118.5 42.9 110.0 46.0 C101.5 49.1 92.6 53.5 85.0 58.5 C77.4 63.5 69.8 71.0 64.4 76.2 C59.0 81.4 56.9 85.5 52.5 89.5 C48.1 93.5 42.2 95.8 37.8 100.0 C33.4 104.2 29.1 108.9 26.0 114.7 C22.9 120.5 20.7 127.5 19.0 135.0 C17.3 142.6 17.0 150.2 16.0 160.0 C15.0 169.8 14.0 181.0 13.0 194.0 C12.0 207.0 10.6 226.7 10.0 238.0 C9.4 249.3 9.2 253.3 9.5 262.0 C9.8 270.7 10.4 281.0 11.5 290.0 C12.6 299.0 14.2 309.7 16.3 316.0 C18.4 322.3 21.1 324.5 24.0 328.0 C26.9 331.5 30.3 335.0 34.0 337.0 C37.7 339.0 39.3 339.2 46.0 340.0 C52.7 340.8 66.0 340.8 74.0 341.5 C82.0 342.2 90.3 341.4 94.0 344.5 C97.7 347.6 94.7 355.4 96.0 360.0 C97.3 364.6 100.0 368.5 102.0 372.0 C104.0 375.5 106.8 377.5 108.0 381.0 C109.2 384.5 108.3 388.9 109.5 392.8 C110.7 396.8 113.0 401.2 115.4 404.7 C117.8 408.2 120.6 411.6 124.0 413.6 C127.4 415.6 131.7 416.5 136.0 416.5 C140.3 416.5 145.5 414.4 150.0 413.6 C154.5 412.9 158.7 412.9 163.0 412.0 C167.3 411.1 172.8 408.3 176.0 408.0 C179.2 407.7 180.1 405.7 182.0 410.0 C183.9 414.3 184.5 427.5 187.3 434.0 C190.1 440.5 194.6 445.5 199.0 449.0 C203.4 452.5 209.0 455.0 214.0 455.0 C219.0 455.0 224.6 453.0 228.8 449.0 C233.0 445.0 236.6 437.5 239.0 431.0 C241.4 424.5 240.8 414.8 243.0 410.0 C245.2 405.2 247.4 403.4 252.4 402.5 C257.4 401.6 268.1 403.8 273.0 404.7 C277.9 405.6 278.9 407.0 282.0 408.0 C285.1 409.0 288.2 410.4 291.8 410.6 C295.4 410.8 300.2 411.0 303.7 409.0 C307.1 407.0 309.6 403.0 312.5 398.8 C315.4 394.6 318.4 389.0 321.4 384.0 C324.4 379.0 328.4 373.4 330.3 369.0 C332.2 364.6 332.1 361.4 333.0 357.3 C333.9 353.2 331.5 347.4 336.0 344.5 C340.5 341.6 352.1 341.3 360.0 340.0 C367.9 338.7 377.2 338.6 383.6 336.6 C390.0 334.6 393.9 331.9 398.3 327.8 C402.7 323.7 406.8 319.3 410.0 312.0 C413.2 304.7 415.9 294.5 417.6 284.0 C419.4 273.5 420.4 262.3 420.5 249.0 C420.6 235.7 419.2 217.2 418.0 204.0 C416.8 190.8 414.8 180.7 413.0 170.0 C411.2 159.3 409.9 149.4 407.0 140.0 C404.1 130.6 399.8 121.9 395.4 113.6 C391.0 105.3 385.5 95.7 380.6 90.0 C375.7 84.3 370.7 82.0 365.8 79.5 C360.9 77.0 356.5 78.7 351.0 75.0 C345.5 71.3 339.9 62.7 333.0 57.3 C326.1 51.9 316.8 46.7 309.6 42.5 C302.4 38.3 296.6 35.9 290.0 32.2 C283.4 28.5 276.3 23.0 270.0 20.4 C263.7 17.8 257.8 17.0 252.4 16.5 C247.0 16.0 242.4 15.9 237.6 17.4 C232.8 18.9 228.3 22.9 223.8 25.3 C219.3 27.7 213.6 31.0 210.5 31.6 Z" fill="none" stroke="#969696" stroke-width="2.6" filter="url(#bl1)"/>
<rect x="136.2" y="256.1" width="22" height="21" fill="url(#ysq)" stroke="#ecc257" stroke-width="1.1" filter="url(#ybl)"/>
<rect x="264.3" y="256.1" width="22" height="21" fill="url(#ysq)" stroke="#ecc257" stroke-width="1.1" filter="url(#ybl)"/></g>
<text transform="translate(7.71,39.22) scale(1.035,1.033)" font-size="43" font-weight="bold" font-family="'Liberation Sans', Arial, sans-serif" stroke="#000" stroke-width="0.7">A</text>
<text transform="translate(526.33,39.22) scale(0.976,1.033)" font-size="43" font-weight="bold" font-family="'Liberation Sans', Arial, sans-serif" stroke="#000" stroke-width="0.7">B</text>
<text transform="translate(1185.99,38.7) scale(0.954,1.025)" font-size="43" font-weight="bold" font-family="'Liberation Sans', Arial, sans-serif" stroke="#000" stroke-width="0.7">C</text>
<text transform="translate(1847.83,38.42) scale(0.975,1.033)" font-size="43" font-weight="bold" font-family="'Liberation Sans', Arial, sans-serif" stroke="#000" stroke-width="0.7">D</text>
<line x1="569.2" y1="21.5" x2="572.6" y2="19.5" stroke="#444" stroke-width="1.7" stroke-linecap="round"/>
<rect x="722.4" y="228.8" width="70.7" height="196.7" fill="#bfbfbf"/>
<rect x="792.5" y="308.9" width="67.3" height="116.6" fill="#7f7f7f"/>
<rect x="965" y="254.6" width="67.7" height="170.9" fill="#bfbfbf"/>
<rect x="1032.1" y="283.5" width="70.6" height="142.0" fill="#7f7f7f"/>
<line x1="669.7" y1="99.5" x2="669.7" y2="438" stroke="#868686" stroke-width="2.8" stroke-linecap="butt"/>
<line x1="660" y1="99.5" x2="669.7" y2="99.5" stroke="#868686" stroke-width="2.8" stroke-linecap="butt"/>
<line x1="660" y1="262.3" x2="669.7" y2="262.3" stroke="#868686" stroke-width="2.8" stroke-linecap="butt"/>
<line x1="660" y1="425.5" x2="669.7" y2="425.5" stroke="#868686" stroke-width="2.8" stroke-linecap="butt"/>
<line x1="660" y1="425.5" x2="1156.6" y2="425.5" stroke="#868686" stroke-width="2.8" stroke-linecap="butt"/>
<line x1="912.4" y1="425.5" x2="912.4" y2="438" stroke="#868686" stroke-width="2.8" stroke-linecap="butt"/>
<line x1="1155.2" y1="425.5" x2="1155.2" y2="438" stroke="#868686" stroke-width="2.8" stroke-linecap="butt"/>
<line x1="756" y1="218" x2="756" y2="243.5" stroke="#000" stroke-width="3.2" stroke-linecap="butt"/>
<line x1="746.5" y1="218" x2="765.5" y2="218" stroke="#000" stroke-width="3.2" stroke-linecap="butt"/>
<line x1="746.5" y1="243.5" x2="765.5" y2="243.5" stroke="#000" stroke-width="3.2" stroke-linecap="butt"/>
<line x1="826.2" y1="298.5" x2="826.2" y2="318.8" stroke="#000" stroke-width="3.2" stroke-linecap="butt"/>
<line x1="816.7" y1="298.5" x2="835.7" y2="298.5" stroke="#000" stroke-width="3.2" stroke-linecap="butt"/>
<line x1="816.7" y1="318.8" x2="835.7" y2="318.8" stroke="#000" stroke-width="3.2" stroke-linecap="butt"/>
<line x1="998.6" y1="243.8" x2="998.6" y2="268.5" stroke="#000" stroke-width="3.2" stroke-linecap="butt"/>
<line x1="989.1" y1="243.8" x2="1008.1" y2="243.8" stroke="#000" stroke-width="3.2" stroke-linecap="butt"/>
<line x1="989.1" y1="268.5" x2="1008.1" y2="268.5" stroke="#000" stroke-width="3.2" stroke-linecap="butt"/>
<line x1="1068.9" y1="272.5" x2="1068.9" y2="297" stroke="#000" stroke-width="3.2" stroke-linecap="butt"/>
<line x1="1059.4" y1="272.5" x2="1078.4" y2="272.5" stroke="#000" stroke-width="3.2" stroke-linecap="butt"/>
<line x1="1059.4" y1="297" x2="1078.4" y2="297" stroke="#000" stroke-width="3.2" stroke-linecap="butt"/>
<line x1="752.9" y1="128.2" x2="827.3" y2="128.2" stroke="#000" stroke-width="3.2" stroke-linecap="butt"/>
<text x="789.8" y="126" font-size="39" font-weight="normal" font-family="'Liberation Serif', serif" text-anchor="middle" >*</text>
<rect x="735.2" y="43.7" width="19.0" height="18.7" fill="#bfbfbf"/>
<text x="761" y="66.5" font-size="39" font-weight="normal" font-family="'Liberation Serif', serif" text-anchor="start" >Pre-FB</text>
<rect x="946.2" y="43.7" width="18.7" height="18.7" fill="#7f7f7f"/>
<text x="973.6" y="66.5" font-size="39" font-weight="normal" font-family="'Liberation Serif', serif" text-anchor="start" >Post-FB</text>
<text x="634.5" y="112.4" font-size="39" font-weight="normal" font-family="'Liberation Serif', serif" text-anchor="end" >0.4</text>
<text x="635.5" y="275.9" font-size="39" font-weight="normal" font-family="'Liberation Serif', serif" text-anchor="end" >0.2</text>
<text x="637.2" y="438.8" font-size="39" font-weight="normal" font-family="'Liberation Serif', serif" text-anchor="end" >0</text>
<text x="789.7" y="483.6" font-size="39" font-weight="normal" font-family="'Liberation Serif', serif" text-anchor="middle" letter-spacing="-1">Left</text>
<text x="1034.7" y="483.6" font-size="39" font-weight="normal" font-family="'Liberation Serif', serif" text-anchor="middle" letter-spacing="-0.6">Right</text>
<text x="0" y="0" font-size="36.6" font-weight="normal" font-family="'Liberation Serif', serif" text-anchor="middle" transform="translate(558.3,266.4) rotate(-90) scale(1,1.058)" xml:space="preserve">parameter  estimates</text>
<rect x="1392.9" y="340.8" width="71.4" height="84.7" fill="#7f9144"/>
<rect x="1463.7" y="203.4" width="66.9" height="222.1" fill="#6a8bd4"/>
<rect x="1636" y="280.2" width="71.1" height="145.3" fill="#7f9144"/>
<rect x="1706.5" y="238.8" width="66.5" height="186.7" fill="#6a8bd4"/>
<line x1="1340.5" y1="96.4" x2="1340.5" y2="438" stroke="#868686" stroke-width="2.8" stroke-linecap="butt"/>
<line x1="1328" y1="96.4" x2="1340.5" y2="96.4" stroke="#868686" stroke-width="2.8" stroke-linecap="butt"/>
<line x1="1328" y1="262.2" x2="1340.5" y2="262.2" stroke="#868686" stroke-width="2.8" stroke-linecap="butt"/>
<line x1="1328" y1="425.5" x2="1340.5" y2="425.5" stroke="#868686" stroke-width="2.8" stroke-linecap="butt"/>
<line x1="1328" y1="425.5" x2="1827.4" y2="425.5" stroke="#868686" stroke-width="2.8" stroke-linecap="butt"/>
<line x1="1583.1" y1="425.5" x2="1583.1" y2="438" stroke="#868686" stroke-width="2.8" stroke-linecap="butt"/>
<line x1="1826" y1="425.5" x2="1826" y2="438" stroke="#868686" stroke-width="2.8" stroke-linecap="butt"/>
<line x1="1426.8" y1="304.5" x2="1426.8" y2="377" stroke="#000" stroke-width="3.2" stroke-linecap="butt"/>
<line x1="1417.3" y1="304.5" x2="1436.3" y2="304.5" stroke="#000" stroke-width="3.2" stroke-linecap="butt"/>
<line x1="1417.3" y1="377" x2="1436.3" y2="377" stroke="#000" stroke-width="3.2" stroke-linecap="butt"/>
<line x1="1497" y1="170.2" x2="1497" y2="236.3" stroke="#000" stroke-width="3.2" stroke-linecap="butt"/>
<line x1="1487.5" y1="170.2" x2="1506.5" y2="170.2" stroke="#000" stroke-width="3.2" stroke-linecap="butt"/>
<line x1="1487.5" y1="236.3" x2="1506.5" y2="236.3" stroke="#000" stroke-width="3.2" stroke-linecap="butt"/>
<line x1="1669.4" y1="256.7" x2="1669.4" y2="307" stroke="#000" stroke-width="3.2" stroke-linecap="butt"/>
<line x1="1659.9" y1="256.7" x2="1678.9" y2="256.7" stroke="#000" stroke-width="3.2" stroke-linecap="butt"/>
<line x1="1659.9" y1="307" x2="1678.9" y2="307" stroke="#000" stroke-width="3.2" stroke-linecap="butt"/>
<line x1="1739.7" y1="215.5" x2="1739.7" y2="265.2" stroke="#000" stroke-width="3.2" stroke-linecap="butt"/>
<line x1="1730.2" y1="215.5" x2="1749.2" y2="215.5" stroke="#000" stroke-width="3.2" stroke-linecap="butt"/>
<line x1="1730.2" y1="265.2" x2="1749.2" y2="265.2" stroke="#000" stroke-width="3.2" stroke-linecap="butt"/>
<line x1="1426.8" y1="125" x2="1501.5" y2="125" stroke="#000" stroke-width="3.2" stroke-linecap="butt"/>
<text x="1461.2" y="123" font-size="39" font-weight="normal" font-family="'Liberation Serif', serif" text-anchor="middle" >*</text>
<rect x="1485.8" y="43.5" width="19.0" height="19.1" fill="#7f9144"/>
<text x="1512.7" y="67.6" font-size="39" font-weight="normal" font-family="'Liberation Serif', serif" text-anchor="start" >EF</text>
<rect x="1633" y="43.5" width="18.8" height="19.1" fill="#6a8bd4"/>
<text x="1661" y="67.6" font-size="39" font-weight="normal" font-family="'Liberation Serif', serif" text-anchor="start" >ML</text>
<text x="1304.5" y="109" font-size="39" font-weight="normal" font-family="'Liberation Serif', serif" text-anchor="end" >0.5</text>
<text x="1306" y="274.9" font-size="39" font-weight="normal" font-family="'Liberation Serif', serif" text-anchor="end" >0.2</text>
<text x="1302" y="440.8" font-size="39" font-weight="normal" font-family="'Liberation Serif', serif" text-anchor="end" letter-spacing="-1">-0.1</text>
<text x="1460.7" y="485.2" font-size="39" font-weight="normal" font-family="'Liberation Serif', serif" text-anchor="middle" >ANDR</text>
<text x="1703" y="485.2" font-size="39" font-weight="normal" font-family="'Liberation Serif', serif" text-anchor="middle" >PLAC</text>
<text x="0" y="0" font-size="36.6" font-weight="normal" font-family="'Liberation Serif', serif" text-anchor="middle" transform="translate(1229.9,266.6) rotate(-90) scale(1,1.058)" xml:space="preserve">parameter  estimates</text>
<line x1="1995.4" y1="102.5" x2="1995.4" y2="435" stroke="#868686" stroke-width="2.8" stroke-linecap="butt"/>
<line x1="1982.7" y1="102.5" x2="1995.4" y2="102.5" stroke="#868686" stroke-width="2.8" stroke-linecap="butt"/>
<line x1="1982.7" y1="262.3" x2="1995.4" y2="262.3" stroke="#868686" stroke-width="2.8" stroke-linecap="butt"/>
<line x1="1982.7" y1="422.3" x2="1995.4" y2="422.3" stroke="#868686" stroke-width="2.8" stroke-linecap="butt"/>
<line x1="1982.7" y1="422.3" x2="2479" y2="422.3" stroke="#868686" stroke-width="2.8" stroke-linecap="butt"/>
<line x1="2155.1" y1="422.3" x2="2155.1" y2="435" stroke="#868686" stroke-width="2.8" stroke-linecap="butt"/>
<line x1="2318" y1="422.3" x2="2318" y2="435" stroke="#868686" stroke-width="2.8" stroke-linecap="butt"/>
<line x1="2477.6" y1="422.3" x2="2477.6" y2="435" stroke="#868686" stroke-width="2.8" stroke-linecap="butt"/>
<text x="1959.5" y="116.4" font-size="39" font-weight="normal" font-family="'Liberation Serif', serif" text-anchor="end" >0.9</text>
<text x="1959" y="276.5" font-size="39" font-weight="normal" font-family="'Liberation Serif', serif" text-anchor="end" >0.3</text>
<text x="1957.6" y="436.4" font-size="39" font-weight="normal" font-family="'Liberation Serif', serif" text-anchor="end" letter-spacing="-1">-0.3</text>
<text x="1993.2" y="481" font-size="39" font-weight="normal" font-family="'Liberation Serif', serif" text-anchor="middle" >-5</text>
<text x="2155.4" y="481" font-size="39" font-weight="normal" font-family="'Liberation Serif', serif" text-anchor="middle" >0</text>
<text x="2316.7" y="481" font-size="39" font-weight="normal" font-family="'Liberation Serif', serif" text-anchor="middle" >5</text>
<text x="2480.3" y="481" font-size="39" font-weight="normal" font-family="'Liberation Serif', serif" text-anchor="middle" >10</text>
<text x="2228.5" y="59" font-size="39" font-weight="bold" font-family="'Liberation Serif', serif" text-anchor="middle" >ANDR</text>
<text x="2176" y="122.8" font-size="38.6" font-weight="normal" font-family="'Liberation Serif', serif" text-anchor="middle" >r = 0.71, p = 0.007</text>
<text x="2241.7" y="529.5" font-size="38.6" font-weight="normal" font-family="'Liberation Serif', serif" text-anchor="middle" >Change in negative mood</text>
<text x="0" y="0" font-size="36.6" font-weight="normal" font-family="'Liberation Serif', serif" text-anchor="middle" transform="translate(1889,266.4) rotate(-90) scale(1,1.058)" xml:space="preserve">parameter  estimates</text>
<path d="M2059.3 384.8L2071.8 397.3L2059.3 409.8L2046.8000000000002 397.3Z" fill="#6a8bd4"/>
<path d="M2091 320.7L2103.5 333.2L2091 345.7L2078.5 333.2Z" fill="#6a8bd4"/>
<path d="M2155.1 342.8L2167.6 355.3L2155.1 367.8L2142.6 355.3Z" fill="#6a8bd4"/>
<path d="M2186.8 287.9L2199.3 300.4L2186.8 312.9L2174.3 300.4Z" fill="#6a8bd4"/>
<path d="M2186.8 304.8L2199.3 317.3L2186.8 329.8L2174.3 317.3Z" fill="#6a8bd4"/>
<path d="M2186.8 221.7L2199.3 234.2L2186.8 246.7L2174.3 234.2Z" fill="#6a8bd4"/>
<path d="M2218.8 240.5L2231.3 253L2218.8 265.5L2206.3 253Z" fill="#6a8bd4"/>
<path d="M2251 173.5L2263.5 186L2251 198.5L2238.5 186Z" fill="#6a8bd4"/>
<path d="M2314.6 185.9L2327.1 198.4L2314.6 210.9L2302.1 198.4Z" fill="#6a8bd4"/>
<path d="M2314.6 258.3L2327.1 270.8L2314.6 283.3L2302.1 270.8Z" fill="#6a8bd4"/>
<path d="M2314.6 266.3L2327.1 278.8L2314.6 291.3L2302.1 278.8Z" fill="#6a8bd4"/>
<path d="M2369.3 246.8L2381.8 259.3L2369.3 271.8L2356.8 259.3Z" fill="#6a8bd4"/>
<path d="M2382 221.4L2394.5 233.9L2382 246.4L2369.5 233.9Z" fill="#6a8bd4"/>
<path d="M2382 288.5L2394.5 301L2382 313.5L2369.5 301Z" fill="#6a8bd4"/>
<path d="M2445.6 122.4L2458.1 134.9L2445.6 147.4L2433.1 134.9Z" fill="#6a8bd4"/>
<line x1="2058.6" y1="355.1" x2="2446.2" y2="191.7" stroke="#000" stroke-width="3.2" stroke-linecap="round"/>
<text x="210.5" y="529.1" font-size="39" font-weight="normal" font-family="'Liberation Serif', serif" text-anchor="middle" >y = -38</text>
</svg>
</body></html>
